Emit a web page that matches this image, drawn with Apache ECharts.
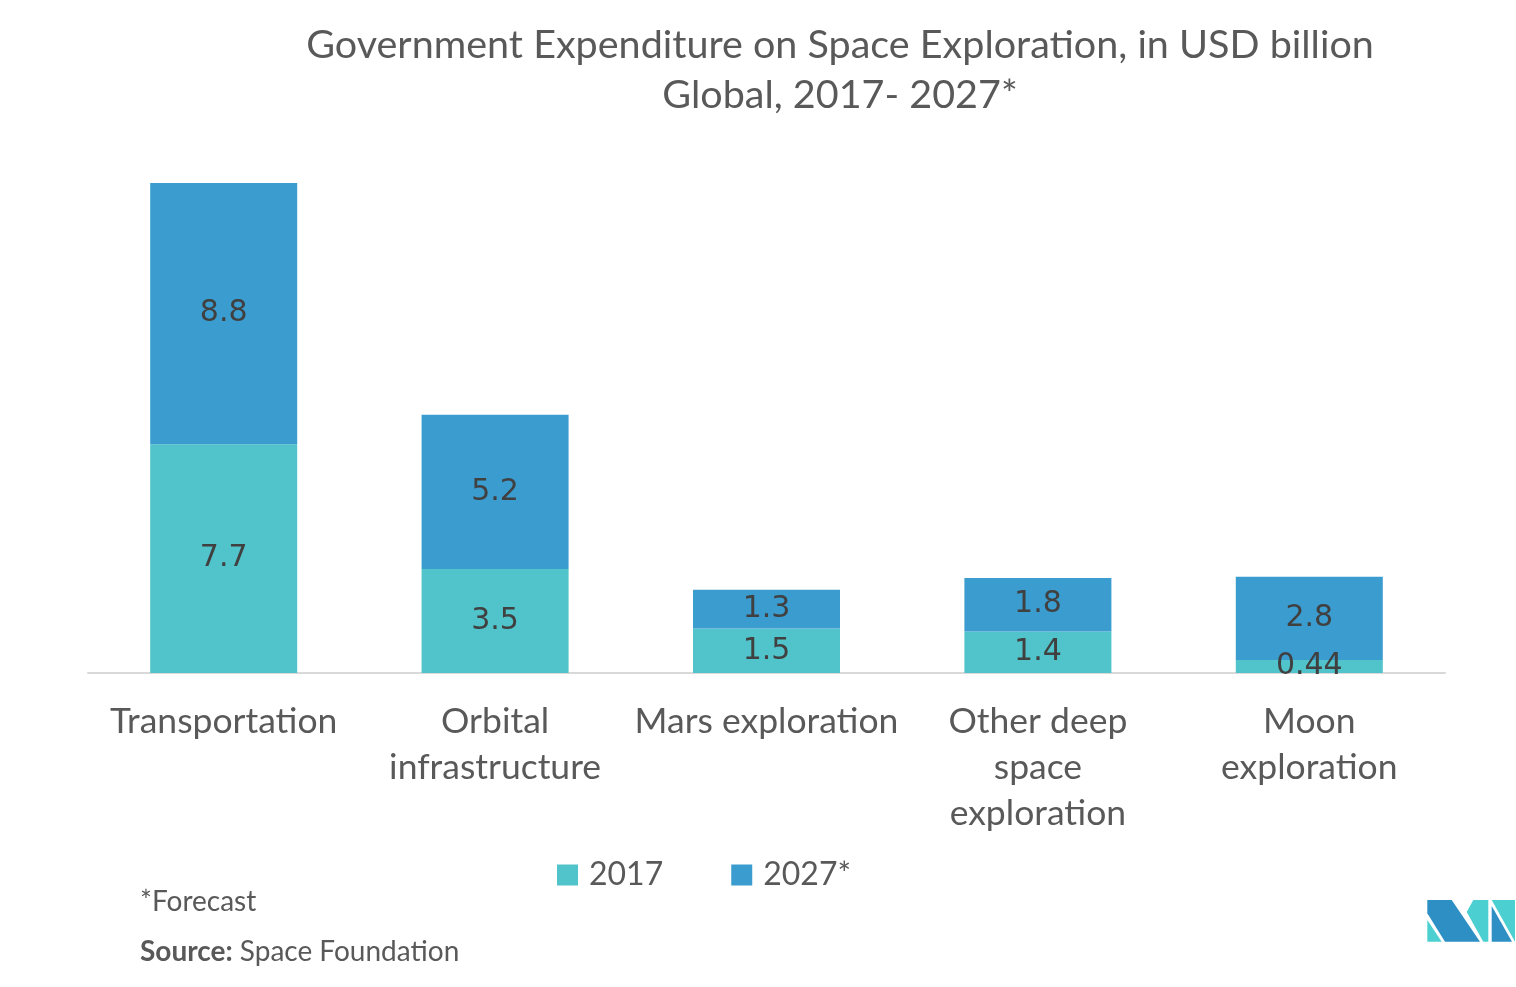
<!DOCTYPE html>
<html>
<head>
<meta charset="utf-8">
<script src="https://cdn.jsdelivr.net/npm/echarts@6/dist/echarts.min.js"></script>
<style>
html,body{margin:0;padding:0;background:#fff;}
#chart{width:1516px;height:987px;}
</style>
</head>
<body>
<div id="chart"></div>
<script>
const categories = ['Transportation', 'Orbital\ninfrastructure', 'Mars exploration', 'Other deep\nspace\nexploration', 'Moon\nexploration'];
const seriesNames = ['2017', '2027*'];
const values2017 = [7.7, 3.5, 1.5, 1.4, 0.44];
const values2027 = [8.8, 5.2, 1.3, 1.8, 2.8];
const titleText = 'Government Expenditure on Space Exploration, in USD billion\nGlobal, 2017- 2027*';
const noteText = '*Forecast';
const sourceText = 'Space Foundation';

const chart = echarts.init(document.getElementById('chart'));
const FONT = 'Lato, "Noto Sans", sans-serif';
const LABEL_FONT = '"DejaVu Sans", sans-serif';
const C2017 = '#50C4CA';
const C2027 = '#3B9CCF';

const labelStyle = {
  show: true,
  position: 'inside',
  color: '#404040',
  fontFamily: LABEL_FONT,
  fontSize: 30
};

chart.setOption({
  animation: false,
  backgroundColor: '#ffffff',
  title: {
    text: titleText,
    left: 840,
    top: 20,
    padding: 0,
    textAlign: 'center',
    textStyle: {
      fontFamily: FONT,
      fontWeight: 'normal',
      fontSize: 39.5,
      lineHeight: 50,
      color: '#595959'
    }
  },
  legend: {
    data: seriesNames,
    left: 557,
    top: 859,
    padding: 0,
    itemWidth: 21,
    itemHeight: 21,
    itemGap: 68,
    icon: 'rect',
    textStyle: {
      fontFamily: FONT,
      fontSize: 32,
      color: '#595959',
      padding: [0, 0, 0, 6]
    }
  },
  grid: {
    left: 88,
    right: 71,
    top: 138.5,
    bottom: 314,
    containLabel: false
  },
  xAxis: {
    type: 'category',
    data: categories,
    axisLine: { show: true, lineStyle: { color: '#d9d9d9', width: 2 } },
    axisTick: { show: false },
    axisLabel: {
      interval: 0,
      margin: 26,
      fontFamily: FONT,
      fontSize: 35.5,
      lineHeight: 46,
      color: '#595959',
      verticalAlign: 'top'
    }
  },
  yAxis: {
    type: 'value',
    min: 0,
    max: 18,
    show: false,
    splitLine: { show: false }
  },
  series: [
    {
      name: seriesNames[0],
      type: 'bar',
      stack: 'total',
      barWidth: 147,
      data: values2017,
      itemStyle: { color: C2017 },
      label: labelStyle
    },
    {
      name: seriesNames[1],
      type: 'bar',
      stack: 'total',
      barWidth: 147,
      data: values2027,
      itemStyle: { color: C2027 },
      label: labelStyle
    }
  ],
  graphic: [
    {
      type: 'text',
      left: 140,
      top: 888,
      style: {
        text: noteText,
        fontFamily: FONT,
        fontSize: 28,
        fill: '#595959'
      }
    },
    {
      type: 'text',
      left: 140,
      top: 938,
      style: {
        text: '{b|Source:} ' + sourceText,
        fontFamily: FONT,
        fontSize: 28,
        fill: '#595959',
        rich: {
          b: { fontFamily: FONT, fontSize: 28, fontWeight: 'bold', fill: '#595959' }
        }
      }
    },
    { type: 'polygon', shape: { points: [[1427.3,900],[1451.7,900],[1480,941.7],[1445,941.7],[1427.3,913.3]] }, style: { fill: '#2E8FC4' } },
    { type: 'polygon', shape: { points: [[1427.3,920],[1427.3,941.7],[1441.7,941.7]] }, style: { fill: '#4CCFD0' } },
    { type: 'polygon', shape: { points: [[1473.3,900],[1488.3,900],[1488.3,941.7],[1483.3,941.7],[1466.7,912]] }, style: { fill: '#4CCFD0' } },
    { type: 'polygon', shape: { points: [[1491.7,900],[1515,900],[1515,941.7]] }, style: { fill: '#4CCFD0' } },
    { type: 'polygon', shape: { points: [[1491.7,906],[1491.7,941.7],[1512,941.7]] }, style: { fill: '#2E8FC4' } }
  ]
});
</script>
</body>
</html>
